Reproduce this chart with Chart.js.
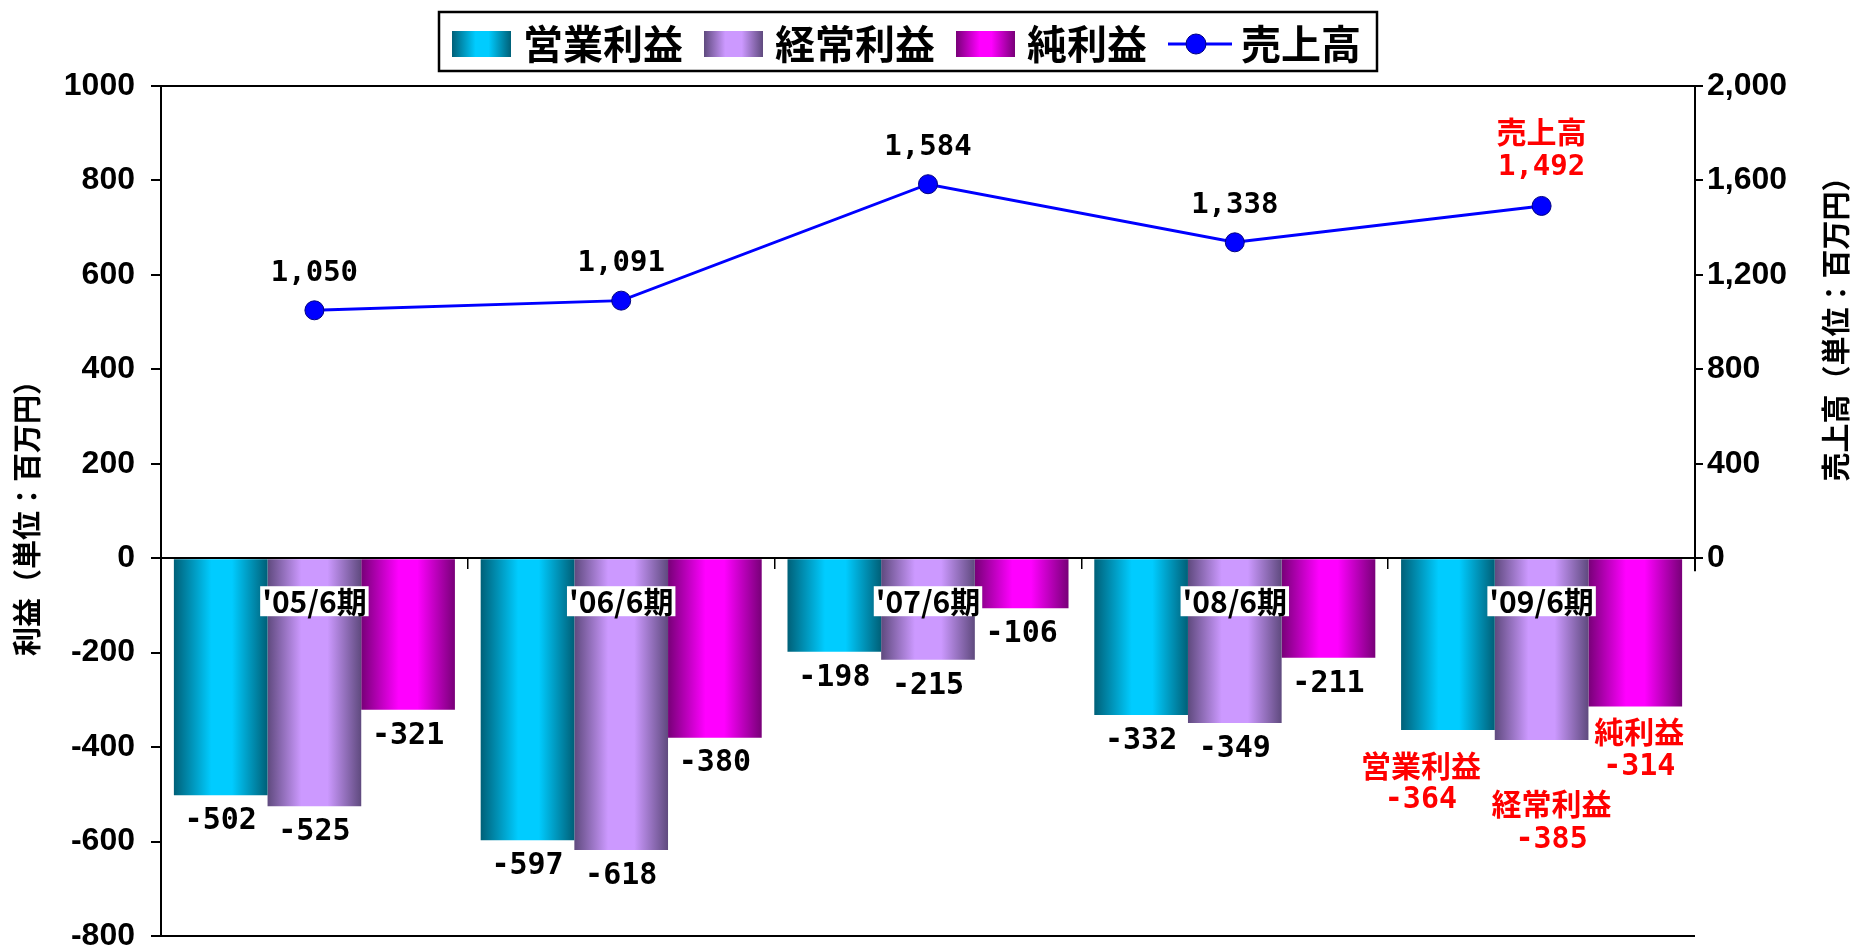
<!DOCTYPE html>
<html>
<head>
<meta charset="utf-8">
<script src="https://cdn.jsdelivr.net/npm/chart.js@4.4.1/dist/chart.umd.min.js"></script>
<style>
html,body{margin:0;padding:0;background:#fff;}
#wrap{width:1856px;height:949px;}
</style>
</head>
<body>
<div id="wrap"><canvas id="c" width="1856" height="949"></canvas></div>
<script>
// ---- data ----
const categories = ["'05/6期", "'06/6期", "'07/6期", "'08/6期", "'09/6期"];
const operatingProfit = [-502, -597, -198, -332, -364];
const ordinaryProfit = [-525, -618, -215, -349, -385];
const netProfit = [-321, -380, -106, -211, -314];
const sales = [1050, 1091, 1584, 1338, 1492];
const seriesNames = ['営業利益', '経常利益', '純利益', '売上高'];
const profitAxisTitle = '利益（単位：百万円）';
const salesAxisTitle = '売上高（単位：百万円）';
const profitRange = [-800, 1000, 200];
const salesRange = [-1600, 2000, 400];
const highlightIndex = 4;

// ---- styles ----
const palettes = [
  {edge: '#006078', mid: '#00ccff', a: 0.4, b: 0.62},
  {edge: '#5f4a7e', mid: '#cc99ff', a: 0.36, b: 0.64},
  {edge: '#780078', mid: '#ff00ff', a: 0.4, b: 0.6}
];
const JP = '"Noto Sans CJK JP", "Noto Sans CJK SC", sans-serif';
const MONO = '"DejaVu Sans Mono", "Liberation Mono", monospace';
const SANS = '"Liberation Sans", Arial, sans-serif';

function makeGrad(ctx, left, right, p) {
  const g = ctx.createLinearGradient(left, 0, right, 0);
  g.addColorStop(0, p.edge);
  g.addColorStop(p.a, p.mid);
  g.addColorStop(p.b, p.mid);
  g.addColorStop(1, p.edge);
  return g;
}

// label placement for the highlighted (latest) period
const hlBar = [
  {dx: -27, nameDy: 35, valueDy: 70},
  {dx: 10, nameDy: 64, valueDy: 100},
  {dx: 4, nameDy: 25, valueDy: 61}
];

const decor = {
  id: 'decor',
  beforeDatasetsDraw(chart) {
    const ctx = chart.ctx;
    chart.data.datasets.forEach((ds, di) => {
      if (ds.type !== 'bar') return;
      chart.getDatasetMeta(di).data.forEach(el => {
        el.options.backgroundColor = makeGrad(ctx, el.x - el.width / 2, el.x + el.width / 2, palettes[di]);
      });
    });
  },
  afterDatasetsDraw(chart) {
    const ctx = chart.ctx;
    ctx.save();
    ctx.textAlign = 'center';
    ctx.textBaseline = 'middle';
    chart.data.datasets.forEach((ds, di) => {
      const meta = chart.getDatasetMeta(di);
      meta.data.forEach((el, j) => {
        const v = ds.data[j];
        if (ds.type === 'bar') {
          if (j === highlightIndex) {
            const o = hlBar[di];
            ctx.fillStyle = '#ff0000';
            ctx.font = 'bold 30px ' + JP;
            ctx.fillText(ds.label, el.x + o.dx, el.y + o.nameDy);
            ctx.font = 'bold 30px ' + MONO;
            ctx.fillText(String(v), el.x + o.dx, el.y + o.valueDy);
          } else {
            ctx.fillStyle = '#000';
            ctx.font = 'bold 30px ' + MONO;
            ctx.fillText(String(v), el.x, el.y + 26);
          }
        } else {
          const txt = v.toLocaleString('en-US');
          if (j === highlightIndex) {
            ctx.fillStyle = '#ff0000';
            ctx.font = 'bold 30px ' + JP;
            ctx.fillText(ds.label, el.x, el.y - 74);
            ctx.font = 'bold 29px ' + MONO;
            ctx.fillText(txt, el.x, el.y - 38);
          } else {
            ctx.fillStyle = '#000';
            ctx.font = 'bold 29px ' + MONO;
            ctx.fillText(txt, el.x, el.y - 37);
          }
        }
      });
    });
    ctx.restore();
  },
  afterDraw(chart) {
    const ctx = chart.ctx;
    const area = chart.chartArea;
    const y1 = chart.scales.y1;
    ctx.save();
    // right axis line (only over the positive sales range)
    ctx.strokeStyle = '#000';
    ctx.lineWidth = 2;
    ctx.beginPath();
    ctx.moveTo(area.right, area.top);
    ctx.lineTo(area.right, y1.getPixelForValue(0) + 13);
    ctx.stroke();

    // axis titles
    ctx.fillStyle = '#000';
    ctx.font = 'bold 29px ' + JP;
    ctx.textAlign = 'center';
    ctx.textBaseline = 'middle';
    ctx.save();
    ctx.translate(27, (area.top + area.bottom) / 2);
    ctx.rotate(-Math.PI / 2);
    ctx.fillText(profitAxisTitle, 0, 0);
    ctx.restore();
    ctx.save();
    ctx.translate(1836, (y1.getPixelForValue(salesRange[1]) + y1.getPixelForValue(0)) / 2);
    ctx.rotate(-Math.PI / 2);
    ctx.fillText(salesAxisTitle, 0, 0);
    ctx.restore();

    // legend
    const x0 = 452, yMid = 44, bw = 59, bh = 26;
    ctx.font = 'bold 40px ' + JP;
    ctx.textAlign = 'left';
    ctx.textBaseline = 'middle';
    let x = x0;
    const draws = [];
    chart.data.datasets.forEach((ds, di) => {
      if (ds.type === 'bar') {
        draws.push({kind: 'box', x, di});
        x += bw + 12;
      } else {
        draws.push({kind: 'line', x, di});
        x += 64 + 9;
      }
      const tw = ctx.measureText(ds.label).width;
      draws.push({kind: 'text', x, text: ds.label});
      x += tw + 21;
    });
    const right = x - 21 + 16;
    ctx.fillStyle = '#fff';
    ctx.fillRect(x0 - 13, 12, right - (x0 - 13), 59);
    ctx.strokeStyle = '#000';
    ctx.lineWidth = 2.5;
    ctx.strokeRect(x0 - 13, 12, right - (x0 - 13), 59);
    draws.forEach(d => {
      if (d.kind === 'box') {
        ctx.fillStyle = makeGrad(ctx, d.x, d.x + bw, palettes[d.di]);
        ctx.fillRect(d.x, yMid - bh / 2, bw, bh);
      } else if (d.kind === 'line') {
        const ds = chart.data.datasets[d.di];
        ctx.strokeStyle = ds.borderColor;
        ctx.lineWidth = 3;
        ctx.beginPath();
        ctx.moveTo(d.x, yMid);
        ctx.lineTo(d.x + 64, yMid);
        ctx.stroke();
        ctx.beginPath();
        ctx.arc(d.x + 28, yMid, 10, 0, Math.PI * 2);
        ctx.fillStyle = ds.pointBackgroundColor;
        ctx.fill();
        ctx.lineWidth = 1;
        ctx.strokeStyle = ds.pointBorderColor;
        ctx.stroke();
      } else {
        ctx.fillStyle = '#000';
        ctx.fillText(d.text, d.x, yMid);
      }
    });
    ctx.restore();
  }
};

const barBase = (i, data) => ({
  type: 'bar',
  label: seriesNames[i],
  data: data,
  yAxisID: 'y',
  xAxisID: 'x',
  backgroundColor: () => palettes[i].mid,
  borderWidth: 0,
  categoryPercentage: 0.916,
  barPercentage: 1.0,
  order: 2
});

const noEdgePadding = s => { s.paddingTop = 0; s.paddingBottom = 0; };

new Chart(document.getElementById('c'), {
  type: 'bar',
  data: {
    labels: categories,
    datasets: [
      barBase(0, operatingProfit),
      barBase(1, ordinaryProfit),
      barBase(2, netProfit),
      {
        type: 'line',
        label: seriesNames[3],
        data: sales,
        yAxisID: 'y1',
        xAxisID: 'x',
        borderColor: '#0000ff',
        borderWidth: 3,
        pointRadius: 9.5,
        pointHoverRadius: 9.5,
        pointBackgroundColor: '#0000ff',
        pointBorderColor: '#000080',
        pointBorderWidth: 1,
        tension: 0,
        fill: false,
        order: 0
      }
    ]
  },
  options: {
    responsive: false,
    devicePixelRatio: 1,
    animation: false,
    layout: {padding: {top: 86, bottom: 13, left: 0, right: 0}, autoPadding: false},
    plugins: {legend: {display: false}, tooltip: {enabled: false}, title: {display: false}},
    scales: {
      x: {
        type: 'category',
        position: {y: 0},
        offset: true,
        grid: {display: true, drawOnChartArea: false, drawTicks: true, tickLength: 10, color: '#000', lineWidth: 1.5, offset: true},
        border: {display: true, color: '#000', width: 2, z: 1},
        ticks: {
          z: 1, autoSkip: false, maxRotation: 0, minRotation: 0, padding: 18, color: '#000',
          font: {family: JP, size: 30, weight: 'bold', lineHeight: 1},
          showLabelBackdrop: true, backdropColor: '#ffffff',
          backdropPadding: {top: 0, bottom: 0, left: 2, right: 2}
        }
      },
      y: {
        type: 'linear',
        position: 'left',
        min: profitRange[0], max: profitRange[1],
        ticks: {
          stepSize: profitRange[2], padding: 16, color: '#000',
          font: {family: SANS, size: 32, weight: 'bold', lineHeight: 0.8},
          callback: v => String(v)
        },
        grid: {
          drawOnChartArea: true, drawTicks: true, tickLength: 10,
          color: c => (c.tick && (c.tick.value === profitRange[0] || c.tick.value === profitRange[1])) ? '#000' : 'rgba(0,0,0,0)',
          tickColor: '#000', lineWidth: 2, tickWidth: 2
        },
        border: {display: true, color: '#000', width: 2},
        afterFit: s => { s.width = 161; noEdgePadding(s); }
      },
      y1: {
        type: 'linear',
        position: 'right',
        min: salesRange[0], max: salesRange[1],
        ticks: {
          stepSize: salesRange[2], padding: 4, color: '#000',
          font: {family: SANS, size: 32, weight: 'bold', lineHeight: 0.8},
          callback: v => Number(v).toLocaleString('en-US')
        },
        afterBuildTicks: s => { s.ticks = s.ticks.filter(t => t.value >= 0); },
        grid: {drawOnChartArea: false, drawTicks: true, tickLength: 8, color: '#000', lineWidth: 2},
        border: {display: false},
        afterFit: s => { s.width = 161; noEdgePadding(s); }
      }
    }
  },
  plugins: [decor]
});
</script>
</body>
</html>
